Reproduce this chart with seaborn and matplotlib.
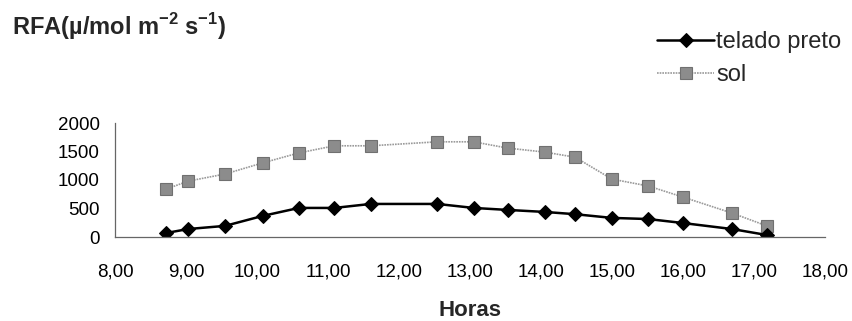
import matplotlib
matplotlib.use("Agg")
import matplotlib.pyplot as plt
import seaborn as sns
import pandas as pd

# Hour of each reading (decimal hours)
horas = [8.72, 9.03, 9.55, 10.08, 10.59, 11.09, 11.60, 12.54, 13.05,
         13.53, 14.05, 14.48, 15.00, 15.51, 16.00, 16.69, 17.18]
# Photosynthetically active radiation under black shade cloth
telado_preto = [70, 140, 195, 370, 510, 510, 580, 580, 510,
                475, 440, 400, 335, 315, 245, 140, 35]
# Photosynthetically active radiation in full sun
sol = [840, 980, 1105, 1300, 1475, 1600, 1600, 1670, 1670,
       1560, 1490, 1400, 1015, 895, 700, 420, 195]

x_ticks = [8, 9, 10, 11, 12, 13, 14, 15, 16, 17, 18]
x_tick_labels = ["8,00", "9,00", "10,00", "11,00", "12,00", "13,00",
                 "14,00", "15,00", "16,00", "17,00", "18,00"]
y_ticks = [0, 500, 1000, 1500, 2000]

sns.set_theme(style="white")
plt.rcParams["font.family"] = ["Liberation Sans", "DejaVu Sans"]
plt.rcParams["mathtext.fontset"] = "custom"
plt.rcParams["mathtext.rm"] = "Liberation Sans:bold"
plt.rcParams["mathtext.bf"] = "Liberation Sans:bold"

df = pd.DataFrame({"hora": horas, "telado preto": telado_preto, "sol": sol})

fig = plt.figure(figsize=(8.53, 3.21), dpi=100)
ax = fig.add_axes([115 / 853, 84 / 321, 710 / 853, 114 / 321])

sns.lineplot(data=df, x="hora", y="sol", ax=ax, estimator=None, sort=False,
             color="#9a9a9a", linestyle=(0, (1, 0.6)), linewidth=1.2,
             marker="s", markersize=8, markerfacecolor="#8c8c8c",
             markeredgecolor="#707070", markeredgewidth=0.8, label="sol")
sns.lineplot(data=df, x="hora", y="telado preto", ax=ax, estimator=None, sort=False,
             color="black", linewidth=1.8, marker="D", markersize=7.5,
             markerfacecolor="black", markeredgecolor="black",
             label="telado preto")

ax.set_xlim(8, 18)
ax.set_ylim(0, 2000)
ax.set_xticks(x_ticks)
ax.set_xticklabels(x_tick_labels)
ax.set_yticks(y_ticks)
ax.tick_params(axis="x", direction="inout", length=6, width=0.8, color="#666666",
               pad=16, labelsize=13.5, labelcolor="black")
ax.tick_params(axis="y", direction="out", length=5, width=0.8, color="#666666",
               pad=6, labelsize=13.5, labelcolor="black")
for side in ("top", "right"):
    ax.spines[side].set_visible(False)
for side in ("left", "bottom"):
    ax.spines[side].set_color("#666666")
    ax.spines[side].set_linewidth(0.9)

ax.set_ylabel("")
ax.set_xlabel("Horas", fontsize=16, fontweight="bold", labelpad=14)

handles, labels = ax.get_legend_handles_labels()
order = [labels.index("telado preto"), labels.index("sol")]
ax.legend([handles[i] for i in order], [labels[i] for i in order],
          loc="upper right", bbox_to_anchor=(851 / 853, 1 - 22 / 321),
          bbox_transform=fig.transFigure, frameon=False, fontsize=17,
          handlelength=2.4, handletextpad=0.1, labelspacing=0.45,
          borderaxespad=0)

fig.text(12 / 853, 1 - 11 / 321, r"RFA(µ/mol m$^{-2}$ s$^{-1}$)",
         fontsize=17, fontweight="bold", ha="left", va="top")

fig.savefig("out.png", dpi=100)
